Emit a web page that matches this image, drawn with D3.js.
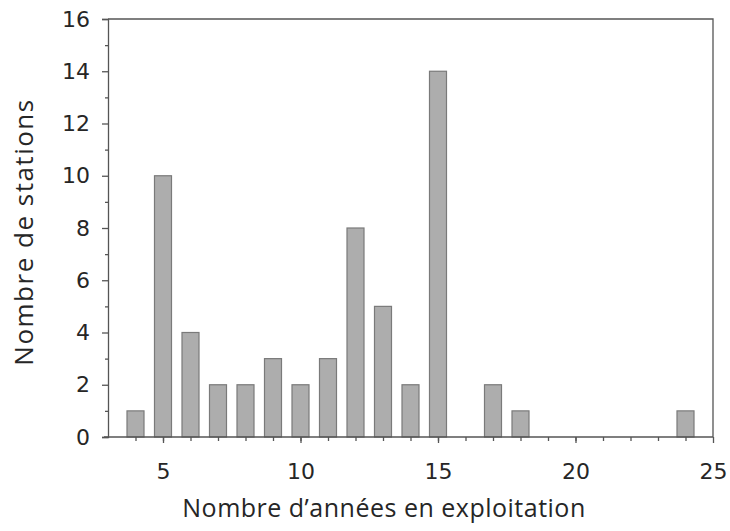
<!DOCTYPE html>
<html>
<head>
<meta charset="utf-8">
<script src="https://cdn.jsdelivr.net/npm/d3@7"></script>
<style>
  body { margin: 0; background: #fff; }
  svg { display: block; }
</style>
</head>
<body>
<svg width="730" height="531"></svg>
<script>
/* Data */
var years = [4, 5, 6, 7, 8, 9, 10, 11, 12, 13, 14, 15, 17, 18, 24];
var stations = [1, 10, 4, 2, 2, 3, 2, 3, 8, 5, 2, 14, 2, 1, 1];
var xTickLabels = [5, 10, 15, 20, 25];
var yTickLabels = [0, 2, 4, 6, 8, 10, 12, 14, 16];

var svg = d3.select('svg');

var x = d3.scaleLinear().domain([3, 25]).range([108, 713]);
var y = d3.scaleLinear().domain([0, 16]).range([437, 19]);
var barWidth = 17;
var ink = '#555';
var textInk = '#262626';

// Bars
svg.append('g').selectAll('rect')
  .data(years)
  .enter().append('rect')
  .attr('x', function(d) { return x(d) - barWidth / 2; })
  .attr('y', function(d, i) { return y(stations[i]); })
  .attr('width', barWidth)
  .attr('height', function(d, i) { return y(0) - y(stations[i]); })
  .style('fill', '#adadad')
  .style('stroke', '#7a7a7a')
  .style('stroke-width', 1.2);

// Frame (top and right)
svg.append('path')
  .attr('d', 'M' + x(3) + ',' + y(16) + 'H' + x(25) + 'V' + y(0))
  .style('fill', 'none')
  .style('stroke', ink)
  .style('stroke-width', 1.3);

// X axis: minor ticks every year, labels at multiples of 5
var xMinor = svg.append('g').attr('transform', 'translate(0,' + y(0) + ')')
  .call(d3.axisBottom(x).tickValues(d3.range(4, 25)).tickSize(4).tickFormat(''));
var xAxis = svg.append('g').attr('transform', 'translate(0,' + y(0) + ')')
  .call(d3.axisBottom(x).tickValues(xTickLabels).tickSize(6).tickPadding(20));
xAxis.select('.domain').attr('d', 'M' + (x(3) - 4) + ',0H' + x(25));

// Y axis: minor ticks at odd values, labels at even values
var yMinor = svg.append('g').attr('transform', 'translate(' + x(3) + ',0)')
  .call(d3.axisLeft(y).tickValues(d3.range(1, 16, 2)).tickSize(3).tickFormat(''));
var yAxis = svg.append('g').attr('transform', 'translate(' + x(3) + ',0)')
  .call(d3.axisLeft(y).tickValues(yTickLabels).tickSize(6).tickPadding(12));

[xMinor, xAxis, yMinor, yAxis].forEach(function(g) {
  g.selectAll('line, path').style('stroke', ink).style('stroke-width', 1.3);
});
xMinor.select('.domain').remove();
yMinor.select('.domain').remove();

[xAxis, yAxis].forEach(function(g) {
  g.selectAll('text')
    .style('font-family', '"DejaVu Sans", sans-serif')
    .style('font-size', '22px')
    .style('fill', textInk);
});

// Axis titles
svg.append('text')
  .attr('x', 384)
  .attr('y', 517)
  .attr('text-anchor', 'middle')
  .style('font-family', '"Open Sans", "Noto Sans", sans-serif')
  .style('font-size', '25px')
  .style('letter-spacing', '0.5px')
  .style('fill', textInk)
  .text('Nombre d\u2019ann\u00e9es en exploitation');

svg.append('text')
  .attr('transform', 'translate(33,232) rotate(-90)')
  .attr('text-anchor', 'middle')
  .style('font-family', '"Open Sans", "Noto Sans", sans-serif')
  .style('font-size', '26px')
  .style('letter-spacing', '1.5px')
  .style('fill', textInk)
  .text('Nombre de stations');
</script>
</body>
</html>
